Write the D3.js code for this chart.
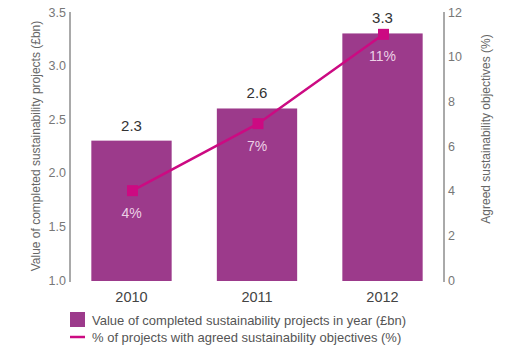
<!DOCTYPE html>
<html>
<head>
<meta charset="utf-8">
<script src="https://cdn.jsdelivr.net/npm/d3@7"></script>
<style>
  html, body { margin: 0; padding: 0; background: #fff; }
  svg { display: block; font-family: "Liberation Sans", Arial, sans-serif; }
</style>
</head>
<body>
<svg id="chart" width="507" height="346"></svg>
<script>
// Sustainability projects: value completed (£bn) and share with agreed objectives (%)
const years = ["2010", "2011", "2012"];
const projectValues = [2.3, 2.6, 3.3];
const objectivePct = [4, 7, 11];
const leftTicks = [1.0, 1.5, 2.0, 2.5, 3.0, 3.5];
const rightTicks = [0, 2, 4, 6, 8, 10, 12];
const leftTitle = "Value of completed sustainability projects (£bn)";
const rightTitle = "Agreed sustainability objectives (%)";
const legendLabels = [
  "Value of completed sustainability projects in year (£bn)",
  "% of projects with agreed sustainability objectives (%)"
];

const barColor = "#9c3a8b";
const lineColor = "#cc0a82";

const svg = d3.select("#chart");
const axisLeftX = 70, axisRightX = 444;
const plotTop = 12, plotBottom = 280;

const x = d3.scaleBand()
  .domain(years)
  .range([axisLeftX, axisRightX])
  .paddingInner(0.36)
  .paddingOuter(0.17);

const yLeft = d3.scaleLinear().domain([1.0, 3.5]).range([plotBottom, plotTop]);
const yRight = d3.scaleLinear().domain([0, 12]).range([plotBottom, plotTop]);

// Bars
svg.append("g").selectAll("rect")
  .data(years)
  .join("rect")
  .attr("x", d => x(d))
  .attr("width", x.bandwidth())
  .attr("y", (d, i) => yLeft(projectValues[i]))
  .attr("height", (d, i) => yLeft(1.0) + 1 - yLeft(projectValues[i]))
  .attr("fill", barColor);

// Bar value labels
svg.append("g").selectAll("text")
  .data(years)
  .join("text")
  .attr("x", d => x(d) + x.bandwidth() / 2)
  .attr("y", (d, i) => yLeft(projectValues[i]) - 10)
  .attr("text-anchor", "middle")
  .attr("font-size", 15)
  .attr("fill", "#333")
  .text((d, i) => projectValues[i].toFixed(1));

// Left axis
const gL = svg.append("g")
  .attr("transform", `translate(${axisLeftX},0)`)
  .call(d3.axisLeft(yLeft).tickValues(leftTicks).tickFormat(d3.format(".1f")).tickSize(0).tickPadding(4));
gL.select(".domain").attr("stroke", "#555").attr("d", `M0,${plotTop}V${plotBottom + 2}`);
gL.selectAll("text").attr("fill", "#777").attr("font-size", 12.5).attr("font-family", "Liberation Sans, Arial, sans-serif");

// Right axis
const gR = svg.append("g")
  .attr("transform", `translate(${axisRightX},0)`)
  .call(d3.axisRight(yRight).tickValues(rightTicks).tickSize(0).tickPadding(4));
gR.select(".domain").attr("stroke", "#555").attr("d", `M0,${plotTop}V${plotBottom + 2}`);
gR.selectAll("text").attr("fill", "#777").attr("font-size", 12.5).attr("font-family", "Liberation Sans, Arial, sans-serif");

// Axis titles
svg.append("text")
  .attr("transform", `translate(40,${(plotTop + plotBottom) / 2}) rotate(-90)`)
  .attr("text-anchor", "middle")
  .attr("font-size", 12)
  .attr("fill", "#666")
  .text(leftTitle);
svg.append("text")
  .attr("transform", `translate(490,129) rotate(-90)`)
  .attr("text-anchor", "middle")
  .attr("font-size", 12)
  .attr("fill", "#666")
  .text(rightTitle);

// Year labels
svg.append("g").selectAll("text")
  .data(years)
  .join("text")
  .attr("x", d => x(d) + x.bandwidth() / 2)
  .attr("y", 302)
  .attr("text-anchor", "middle")
  .attr("font-size", 14.5)
  .attr("fill", "#444")
  .text(d => d);

// Percentage line with square markers
const cx = d => x(d) + x.bandwidth() / 2 + 1;
const line = d3.line()
  .x(d => cx(d))
  .y((d, i) => yRight(objectivePct[i]));
svg.append("path")
  .datum(years)
  .attr("d", line)
  .attr("fill", "none")
  .attr("stroke", lineColor)
  .attr("stroke-width", 2.5);
svg.append("g").selectAll("rect")
  .data(years)
  .join("rect")
  .attr("x", d => cx(d) - 5.5)
  .attr("y", (d, i) => yRight(objectivePct[i]) - 5.5)
  .attr("width", 11)
  .attr("height", 11)
  .attr("fill", lineColor);

// Percentage labels inside bars
svg.append("g").selectAll("text")
  .data(years)
  .join("text")
  .attr("x", d => x(d) + x.bandwidth() / 2)
  .attr("y", (d, i) => yRight(objectivePct[i]) + 27)
  .attr("text-anchor", "middle")
  .attr("font-size", 14)
  .attr("fill", "#ecd0e6")
  .text((d, i) => objectivePct[i] + "%");

// Legend
const legend = svg.append("g");
legend.append("rect")
  .attr("x", 70).attr("y", 312).attr("width", 15).attr("height", 15)
  .attr("fill", barColor);
legend.append("line")
  .attr("x1", 70).attr("x2", 85).attr("y1", 337).attr("y2", 337)
  .attr("stroke", lineColor).attr("stroke-width", 2.5);
legend.selectAll("text")
  .data(legendLabels)
  .join("text")
  .attr("x", 92)
  .attr("y", (d, i) => 325 + i * 16.5)
  .attr("font-size", 13)
  .attr("fill", "#555")
  .text(d => d);
</script>
</body>
</html>
